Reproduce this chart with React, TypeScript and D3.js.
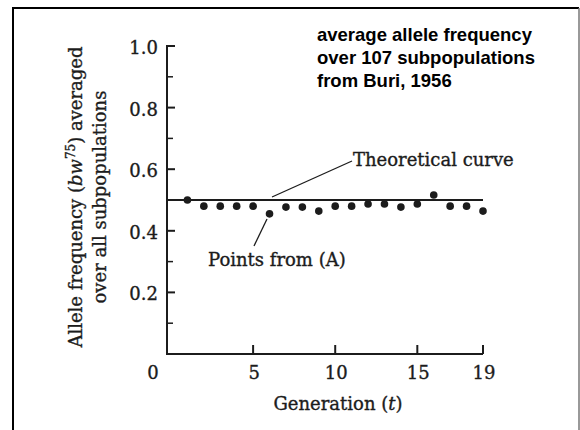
import React from "react";
import * as d3 from "d3";

const generations = [1, 2, 3, 4, 5, 6, 7, 8, 9, 10, 11, 12, 13, 14, 15, 16, 17, 18, 19];
const meanFreq = [0.5, 0.48, 0.48, 0.48, 0.48, 0.455, 0.477, 0.477, 0.464, 0.48, 0.48, 0.487, 0.487, 0.477, 0.487, 0.516, 0.48, 0.48, 0.464];
const theoryGen = [0, 19];
const theoryVal = [0.5, 0.5];
const xTicks = [5, 10, 15, 19];
const xTickLabels = ["5", "10", "15", "19"];
const yMajor = [0.2, 0.4, 0.6, 0.8, 1.0];
const yMajorLabels = ["0.2", "0.4", "0.6", "0.8", "1.0"];
const yMinor = [0.1, 0.3, 0.5, 0.7, 0.9];
const noteLines = ["average allele frequency", "over 107 subpopulations", "from Buri, 1956"];

const W = 580;
const H = 430;
const INK = "#1c1c1c";
const SERIF = "'DejaVu Serif', serif";
const THICK = 0.35;

export default function App() {
  const x = d3.scaleLinear().domain([0, 19]).range([171, 483]);
  const y = d3.scaleLinear().domain([0, 1]).range([354, 46]);
  const axisX = 167;
  const axisY = y(0);

  const line = d3
    .line<number>()
    .x((_, i) => (i === 0 ? axisX : x(theoryGen[i])))
    .y((d) => y(d));

  const axisPath = d3.path();
  axisPath.moveTo(axisX + 7, y(1));
  axisPath.lineTo(axisX, y(1));
  axisPath.lineTo(axisX, axisY);
  axisPath.lineTo(x(19), axisY);

  const serifProps = {
    fontFamily: SERIF,
    fontSize: 18,
    fill: INK,
    stroke: INK,
    strokeWidth: THICK,
  };

  return (
    <svg
      width={W}
      height={H}
      viewBox={`0 0 ${W} ${H}`}
      style={{ position: "absolute", left: 0, top: 0, background: "#fff" }}
    >
      <rect x={0} y={0} width={W} height={H} fill="#fff" />
      {/* frame */}
      <path d={`M13,${H} L13,8 L579,8`} fill="none" stroke="#000" strokeWidth={2} />
      <line x1={579} y1={8} x2={579} y2={H} stroke="#777" strokeWidth={1.5} />

      {/* axes */}
      <path d={axisPath.toString()} fill="none" stroke={INK} strokeWidth={2} />
      {yMajor.map((v) => (
        <line key={"ym" + v} x1={axisX} x2={axisX + 8} y1={y(v)} y2={y(v)} stroke={INK} strokeWidth={2} />
      ))}
      {yMinor.map((v) => (
        <line key={"yn" + v} x1={axisX} x2={axisX + 6} y1={y(v)} y2={y(v)} stroke={INK} strokeWidth={1.5} />
      ))}
      {xTicks.map((v) => (
        <line key={"xt" + v} x1={x(v)} x2={x(v)} y1={axisY} y2={axisY - 9} stroke={INK} strokeWidth={2} />
      ))}

      {/* tick labels */}
      {yMajor.map((v, i) => (
        <text key={"yl" + v} x={158} y={y(v) + 8} textAnchor="end" {...serifProps}>
          {yMajorLabels[i]}
        </text>
      ))}
      <text x={x(0) - 18} y={379} textAnchor="middle" {...serifProps}>
        0
      </text>
      {xTicks.map((v, i) => (
        <text key={"xl" + v} x={x(v) + 1} y={379} textAnchor="middle" {...serifProps}>
          {xTickLabels[i]}
        </text>
      ))}

      {/* axis titles */}
      <text x={338} y={410} textAnchor="middle" {...serifProps}>
        Generation (<tspan fontStyle="italic">t</tspan>)
      </text>
      <text transform={`translate(82,${197}) rotate(-90)`} textAnchor="middle" {...serifProps}>
        Allele frequency (<tspan fontStyle="italic">bw</tspan>
        <tspan fontSize={12} dy={-7}>75</tspan>
        <tspan dy={7}>) averaged</tspan>
      </text>
      <text transform={`translate(106,${197}) rotate(-90)`} textAnchor="middle" {...serifProps}>
        over all subpopulations
      </text>

      {/* theoretical line */}
      <path d={line(theoryVal) || ""} fill="none" stroke={INK} strokeWidth={2.2} />

      {/* points */}
      {generations.map((g, i) => (
        <circle key={"p" + g} cx={x(g)} cy={y(meanFreq[i])} r={3.8} fill={INK} />
      ))}

      {/* annotations */}
      <line x1={272} y1={197} x2={352} y2={161} stroke={INK} strokeWidth={1.3} />
      <text x={353} y={166} {...serifProps}>
        Theoretical curve
      </text>
      <line x1={267} y1={219} x2={254} y2={246} stroke={INK} strokeWidth={1.3} />
      <text x={208} y={266} {...serifProps}>
        Points from (A)
      </text>

      {/* note */}
      {noteLines.map((t, i) => (
        <text
          key={"n" + i}
          x={317}
          y={41 + i * 23}
          fontFamily="'Liberation Sans', Arial, sans-serif"
          fontWeight="bold"
          fontSize={18.5}
          fill="#000"
        >
          {t}
        </text>
      ))}
    </svg>
  );
}
